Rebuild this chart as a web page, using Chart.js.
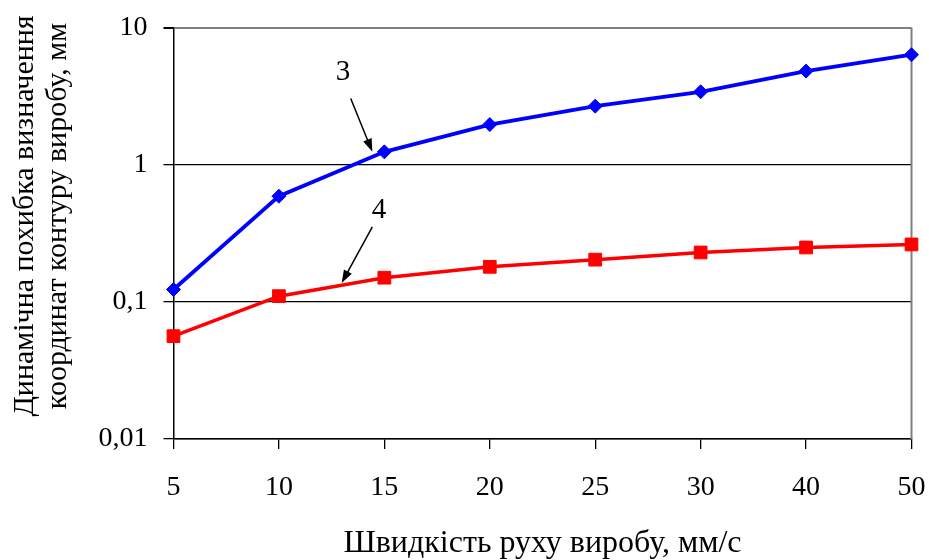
<!DOCTYPE html>
<html>
<head>
<meta charset="utf-8">
<script src="https://cdn.jsdelivr.net/npm/chart.js@4/dist/chart.umd.min.js"></script>
<style>
  html, body { margin: 0; padding: 0; background: #fff; }
</style>
</head>
<body>
<canvas id="myChart" width="929" height="560"></canvas>
<script>
// дані з графіка
const speeds = ['5', '10', '15', '20', '25', '30', '40', '50'];
const errors3 = [0.123, 0.589, 1.24, 1.96, 2.67, 3.40, 4.81, 6.33];
const errors4 = [0.0562, 0.110, 0.150, 0.180, 0.203, 0.229, 0.249, 0.262];
const yTicks = [0.01, 0.1, 1, 10];
const yTickLabels = ['0,01', '0,1', '1', '10'];
const xTitle = 'Швидкість руху виробу, мм/с';
const yTitle = ['Динамічна похибка визначення', 'координат контуру виробу, мм'];

// підписи кривих: [індекс категорії, значення]
const noteLabels = ['3', '4'];
const notePos = [[1.608, 4.73], [1.949, 0.466]];
const arrowFrom = [[1.681, 3.04], [1.886, 0.352]];
const arrowTo = [[1.886, 1.24], [1.595, 0.137]];

const FONT = 'Liberation Serif';
Chart.defaults.font.family = FONT;
Chart.defaults.color = '#000';

function arrow(ctx, x1, y1, x2, y2) {
  const ang = Math.atan2(y2 - y1, x2 - x1);
  const len = 13, half = 4.5;
  ctx.beginPath();
  ctx.moveTo(x1, y1);
  ctx.lineTo(x2 - Math.cos(ang) * len * 0.8, y2 - Math.sin(ang) * len * 0.8);
  ctx.stroke();
  ctx.beginPath();
  ctx.moveTo(x2, y2);
  ctx.lineTo(x2 - Math.cos(ang) * len - Math.sin(ang) * half, y2 - Math.sin(ang) * len + Math.cos(ang) * half);
  ctx.lineTo(x2 - Math.cos(ang) * len + Math.sin(ang) * half, y2 - Math.sin(ang) * len - Math.cos(ang) * half);
  ctx.closePath();
  ctx.fill();
}

const extras = {
  id: 'extras',
  beforeDatasetsDraw(chart) {
    const { ctx, chartArea: a } = chart;
    ctx.save();
    ctx.strokeStyle = '#808080';
    ctx.lineWidth = 2;
    ctx.beginPath();
    ctx.moveTo(a.right, a.top);
    ctx.lineTo(a.right, a.bottom);
    ctx.stroke();
    ctx.restore();
  },
  afterDraw(chart) {
    const { ctx, chartArea: a, scales: { x, y } } = chart;
    ctx.save();
    // стрілки та номери кривих
    ctx.strokeStyle = '#000';
    ctx.fillStyle = '#000';
    ctx.lineWidth = 1.5;
    ctx.font = '29px ' + FONT;
    ctx.textAlign = 'center';
    ctx.textBaseline = 'middle';
    noteLabels.forEach((t, i) => {
      ctx.fillText(t, x.getPixelForValue(notePos[i][0]), y.getPixelForValue(notePos[i][1]));
      arrow(ctx,
        x.getPixelForValue(arrowFrom[i][0]), y.getPixelForValue(arrowFrom[i][1]),
        x.getPixelForValue(arrowTo[i][0]), y.getPixelForValue(arrowTo[i][1]));
    });
    // назва осі Y
    ctx.font = '30px ' + FONT;
    const cy = a.top + (a.bottom - a.top) * 0.458;
    ctx.translate(25, cy);
    ctx.rotate(-Math.PI / 2);
    ctx.fillText(yTitle[0], 0, 0);
    ctx.fillText(yTitle[1], 0, 33);
    ctx.restore();
  }
};

new Chart(document.getElementById('myChart'), {
  type: 'line',
  data: {
    labels: speeds,
    datasets: [
      {
        label: '3',
        data: errors3,
        borderColor: '#0000ff',
        backgroundColor: '#0000ff',
        borderWidth: 3.8,
        pointStyle: 'rectRot',
        pointRadius: 7,
        pointBorderWidth: 1,
        tension: 0,
      },
      {
        label: '4',
        data: errors4,
        borderColor: '#ff0000',
        backgroundColor: '#ff0000',
        borderWidth: 3.5,
        pointStyle: 'rect',
        pointRadius: 9,
        pointBorderWidth: 1,
        tension: 0,
      },
    ],
  },
  options: {
    responsive: false,
    animation: false,
    devicePixelRatio: 1,
    layout: { padding: { left: 0, right: 17.5, top: 27.5, bottom: 0 } },
    plugins: {
      legend: { display: false },
      tooltip: { enabled: false },
    },
    scales: {
      x: {
        type: 'category',
        offset: false,
        afterFit: (s) => { s.height = 121; s.paddingLeft = 0; s.paddingRight = 0; },
        grid: { drawOnChartArea: false, drawTicks: true, tickLength: 10, color: '#000', lineWidth: 1.3 },
        border: { color: '#000', width: 1.5 },
        ticks: { padding: 22, font: { size: 28 }, maxRotation: 0, autoSkip: false },
        title: { display: true, text: xTitle, font: { size: 32 }, padding: { top: 0, bottom: -3 } },
      },
      y: {
        type: 'logarithmic',
        min: 0.01,
        max: 10,
        afterFit: (s) => { s.width = 173.5; s.paddingTop = 0; s.paddingBottom = 0; },
        afterBuildTicks: (s) => { s.ticks = yTicks.map((v) => ({ value: v })); },
        grid: {
          tickLength: 10,
          color: (c) => (c.tick && c.tick.value === 10 ? '#808080' : '#000'),
          lineWidth: (c) => (c.tick && c.tick.value === 10 ? 2 : 1.3),
          tickColor: '#000',
        },
        border: { color: '#000', width: 1.5 },
        ticks: {
          padding: 16,
          font: { size: 28 },
          callback: (v) => yTickLabels[yTicks.indexOf(v)],
        },
      },
    },
  },
  plugins: [extras],
});
</script>
</body>
</html>
